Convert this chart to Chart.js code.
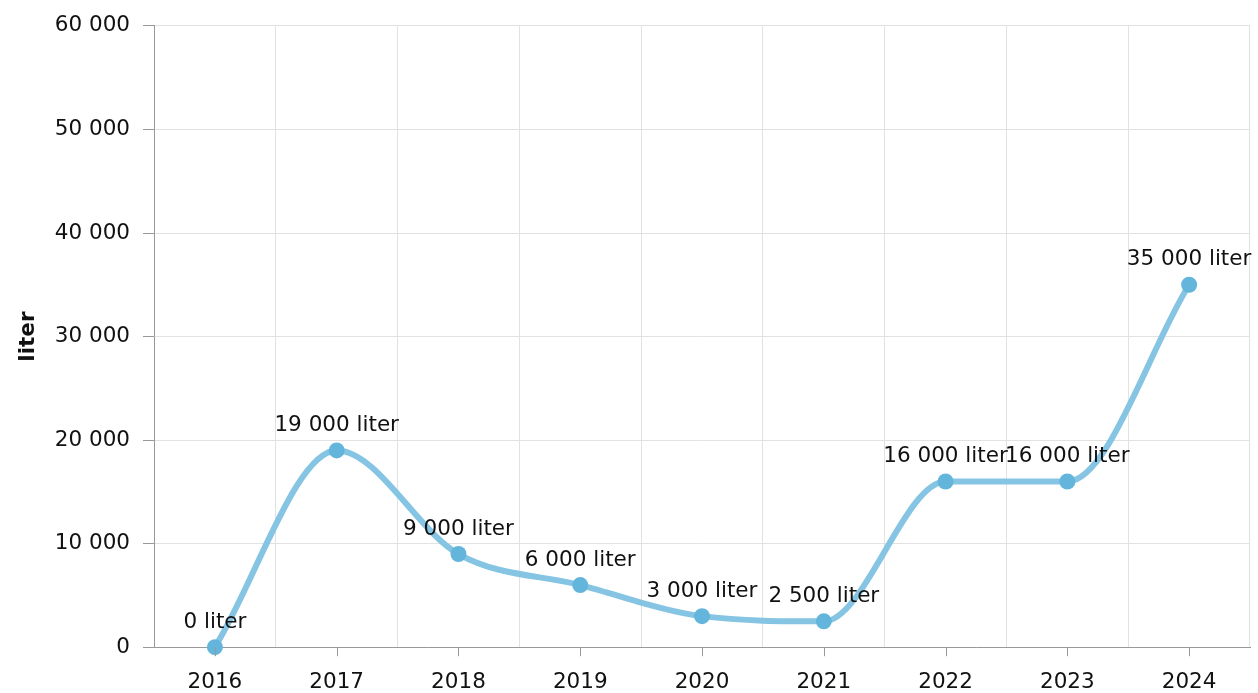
<!DOCTYPE html>
<html>
<head>
<meta charset="utf-8">
<script src="https://cdn.jsdelivr.net/npm/chart.js@4"></script>
<style>
  html, body { margin: 0; padding: 0; background: #fff; overflow: hidden; }
  #wrap { width: 1258px; height: 693px; position: relative; }
</style>
</head>
<body>
<div id="wrap"><canvas id="literChart"></canvas></div>
<script>
// data
const years = ["2016", "2017", "2018", "2019", "2020", "2021", "2022", "2023", "2024"];
const liters = [0, 19000, 9000, 6000, 3000, 2500, 16000, 16000, 35000];
const yTicks = [0, 10000, 20000, 30000, 40000, 50000, 60000];
const unit = "liter";

const FONT = "'DejaVu Sans', Verdana, sans-serif";
const SIZE = 21.5;
const fmt = (v) => String(v).replace(/\B(?=(\d{3})+(?!\d))/g, " ");

// labels above each point
const pointLabels = {
  id: "pointLabels",
  afterDatasetsDraw(chart) {
    const ctx = chart.ctx;
    const meta = chart.getDatasetMeta(0);
    ctx.save();
    ctx.font = SIZE + "px " + FONT;
    ctx.fillStyle = "#111";
    ctx.textAlign = "center";
    ctx.textBaseline = "middle";
    meta.data.forEach((pt, i) => {
      ctx.fillText(fmt(liters[i]) + " " + unit, pt.x, pt.y - 25);
    });
    ctx.restore();
  }
};

// small tick marks under the x axis, at the category centres
const xTickMarks = {
  id: "xTickMarks",
  afterDraw(chart) {
    const x = chart.scales.x;
    const ctx = chart.ctx;
    ctx.save();
    ctx.strokeStyle = "#999";
    ctx.lineWidth = 1;
    years.forEach((y, i) => {
      const px = Math.round(x.getPixelForValue(i)) + 0.5;
      ctx.beginPath();
      ctx.moveTo(px, x.top);
      ctx.lineTo(px, x.top + 9);
      ctx.stroke();
    });
    ctx.restore();
  }
};

new Chart(document.getElementById("literChart"), {
  type: "line",
  data: {
    labels: years,
    datasets: [{
      label: unit,
      data: liters,
      borderColor: "#85c5e3",
      borderWidth: 6,
      backgroundColor: "#64b5dc",
      pointBackgroundColor: "#64b5dc",
      pointBorderWidth: 0,
      pointRadius: 8,
      cubicInterpolationMode: "monotone",
      clip: false
    }]
  },
  options: {
    responsive: true,
    maintainAspectRatio: false,
    animation: false,
    layout: { padding: { top: 6, right: 1, left: 16, bottom: -24 } },
    plugins: {
      legend: { display: false },
      tooltip: { enabled: false }
    },
    scales: {
      x: {
        offset: true,
        grid: { offset: true, color: "#e2e2e2", drawTicks: false },
        border: { color: "#999" },
        ticks: { padding: 22, color: "#111", font: { family: FONT, size: SIZE } }
      },
      y: {
        min: yTicks[0],
        max: yTicks[yTicks.length - 1],
        afterBuildTicks: (axis) => { axis.ticks = yTicks.map((v) => ({ value: v })); },
        grid: { color: "#e2e2e2", tickLength: 11, tickColor: "#999" },
        border: { color: "#999" },
        ticks: {
          padding: 13,
          color: "#111",
          font: { family: FONT, size: SIZE },
          callback: (v) => fmt(v)
        },
        title: {
          display: true,
          text: unit,
          color: "#111",
          font: { family: FONT, size: SIZE, weight: "bold" },
          padding: { top: 0, bottom: 0 }
        }
      }
    }
  },
  plugins: [pointLabels, xTickMarks]
});
</script>
</body>
</html>
